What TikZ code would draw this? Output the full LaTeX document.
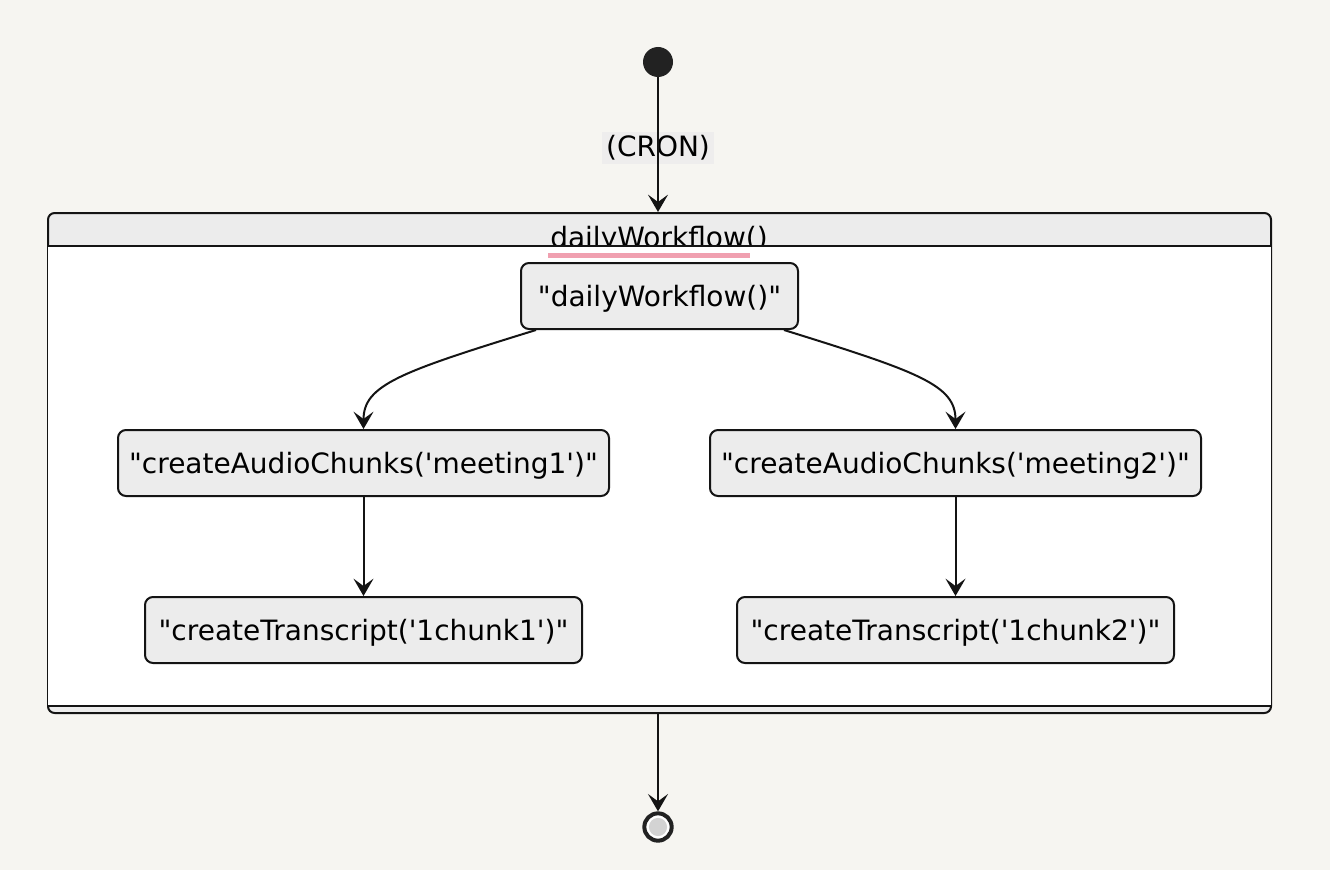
\documentclass[tikz,border=0pt]{standalone}
\usepackage{fontspec}
\setmainfont{DejaVu Sans}[Ligatures=TeXOff]
\usetikzlibrary{positioning,calc,arrows.meta}
\definecolor{mybg}{RGB}{246,245,241}
\definecolor{mynodefill}{RGB}{236,236,236}
\definecolor{myline}{RGB}{20,20,20}
\definecolor{mydot}{RGB}{34,34,34}
\definecolor{mypink}{RGB}{240,160,176}
\definecolor{myendfill}{RGB}{211,211,211}
\tikzset{
  flowpic/.style={
    x=0.75pt,y=-0.75pt
    ,font=\fontsize{21}{25}\selectfont
  }
  ,statebox/.style={rectangle
    ,rounded corners=6pt
    ,draw=myline
    ,line width=1.5pt
    ,fill=mynodefill
    ,minimum height=49.5pt
    ,inner sep=0pt
    ,text depth=0pt
    ,text height=15pt}
  ,workbox/.style={statebox,minimum width=207.75pt}
  ,chunkbox/.style={statebox,minimum width=368.25pt}
  ,transbox/.style={statebox,minimum width=327.75pt}
  ,cluster/.style={rectangle
    ,rounded corners=5pt
    ,draw=myline
    ,line width=1.5pt
    ,fill=mynodefill
    ,minimum width=917.25pt
    ,minimum height=375pt}
  ,startdot/.style={circle,fill=mydot,minimum size=22.5pt,inner sep=0pt}
  ,enddot/.style={circle
    ,draw=mydot
    ,line width=3pt
    ,fill=white
    ,minimum size=20.5pt
    ,inner sep=0pt
    ,path picture={\fill[myendfill] (path picture bounding box.center) circle (6.8pt);}}
  ,edgelabel/.style={fill=mynodefill,fill opacity=.8,text opacity=1,inner sep=3pt}
  ,flow/.style={-{Stealth[length=13pt,width=15pt,inset=5.5pt]},line width=1.5pt,draw=myline}
}

\begin{document}
\begin{tikzpicture}[flowpic]
  \useasboundingbox[fill=mybg] (0,0) rectangle (1330,870);

  % start and end
  \node[startdot] (start) at (658,62) {};
  \node[enddot] (end) at (658,827) {};

  % composite state
  \node[cluster] (wf) at (659.5,463) {};
  \node[anchor=base] (wftitle) at (659,247) {dailyWorkflow()};
  \fill[white] ($(wf.north west)+(1,35)$) rectangle ($(wf.south east)+(-1,-9)$);
  \draw[line width=1.5pt,draw=myline] ($(wf.north west)+(0,34)$) -- ($(wf.north east)+(0,34)$);
  \draw[line width=1.5pt,draw=myline] ($(wf.south west)+(0,-8)$) -- ($(wf.south east)+(0,-8)$);
  \fill[mypink] (548,253) rectangle (750,258);

  % inner states
  \node[workbox] (daily) at (659.5,296) {"dailyWorkflow()"};
  \node[chunkbox] (chunka) at (363.5,463) {"createAudioChunks('meeting1')"};
  \node[chunkbox] (chunkb) at (955.5,463) {"createAudioChunks('meeting2')"};
  \node[transbox] (transa) at (363.5,630) {"createTranscript('1chunk1')"};
  \node[transbox] (transb) at (955.5,630) {"createTranscript('1chunk2')"};

  % transitions
  \node[edgelabel] (cron) at (658,148) {(CRON)};
  \draw[flow] (start) -- (start |- wf.north);
  \draw[flow] ($(daily.south west)+(16,0)$) .. controls (400,372) and (363.5,385) .. (chunka.north);
  \draw[flow] ($(daily.south east)+(-15,0)$) .. controls (919,372) and (955.5,385) .. (chunkb.north);
  \draw[flow] (chunka) -- (transa);
  \draw[flow] (chunkb) -- (transb);
  \draw[flow] (wf.south -| end) -- (end);
\end{tikzpicture}
\end{document}
